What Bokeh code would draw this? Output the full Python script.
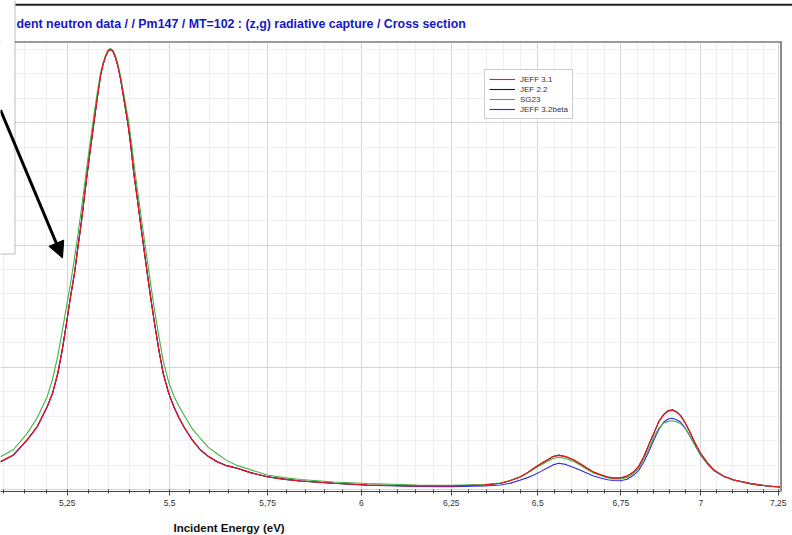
from bokeh.plotting import figure
from bokeh.models import (Range1d, FixedTicker, Grid, Label, BoxAnnotation,
                          Arrow, NormalHead, Legend, LegendItem, Title)
from bokeh.embed import file_html
from bokeh.resources import INLINE

# ---------------- data ----------------
ENERGY = [5.0934, 5.1236, 5.1555, 5.1790, 5.2025, 5.2151, 5.2276, 5.2381, 5.2483, 5.2579,
          5.2674, 5.2753, 5.2835, 5.2907, 5.2979, 5.3058, 5.3138, 5.3220, 5.3300, 5.3360,
          5.3421, 5.3481, 5.3542, 5.3603, 5.3664, 5.3725, 5.3786, 5.3871, 5.3974, 5.4043,
          5.4111, 5.4195, 5.4276, 5.4358, 5.4442, 5.4531, 5.4622, 5.4729, 5.4838, 5.4971,
          5.5103, 5.5228, 5.5354, 5.5565, 5.5775, 5.5978, 5.6199, 5.6437, 5.6712, 5.7055,
          5.7489, 5.7916, 5.8365, 5.9254, 6.0159, 6.1540, 6.2477, 6.3429, 6.3912, 6.4203,
          6.4495, 6.4700, 6.4885, 6.5083, 6.5281, 6.5453, 6.5626, 6.5825, 6.6074, 6.6275,
          6.6477, 6.6667, 6.6880, 6.7093, 6.7285, 6.7490, 6.7695, 6.7898, 6.8053, 6.8207,
          6.8362, 6.8517, 6.8673, 6.8829, 6.8961, 6.9092, 6.9227, 6.9353, 6.9511, 6.9668,
          6.9827, 6.9985, 7.0199, 7.0409, 7.0720, 7.1051, 7.1592, 7.2137, 7.2574]

JEFF31 = [228, 283, 406, 514, 678, 787, 951, 1141, 1360, 1577,
          1769, 1976, 2178, 2384, 2586, 2793, 2995, 3200, 3385, 3475,
          3541, 3584, 3600, 3582, 3532, 3459, 3361, 3189, 2976, 2797,
          2586, 2384, 2178, 1976, 1769, 1562, 1360, 1145, 951, 793,
          678, 589, 514, 406, 324, 270, 228, 196, 174, 139,
          105, 86, 70, 52, 38, 29, 29, 38, 52, 74,
          105, 139, 174, 209, 242, 270, 280, 270, 242, 209,
          174, 143, 121, 102, 94, 95, 110, 146, 192, 269,
          368, 460, 556, 613, 642, 648, 634, 605, 540, 460,
          372, 297, 221, 160, 110, 78, 49, 29, 21]

JEF22 = [228, 283, 406, 514, 678, 787, 951, 1141, 1360, 1577,
         1769, 1976, 2178, 2384, 2586, 2793, 2995, 3200, 3385, 3475,
         3541, 3584, 3598, 3582, 3532, 3459, 3361, 3189, 2976, 2797,
         2586, 2384, 2178, 1976, 1769, 1562, 1360, 1145, 951, 793,
         678, 589, 514, 406, 324, 270, 228, 196, 174, 139,
         105, 86, 70, 52, 38, 29, 29, 38, 52, 74,
         105, 139, 174, 209, 242, 271, 282, 271, 242, 209,
         174, 143, 121, 102, 94, 95, 110, 146, 192, 269,
         368, 460, 557, 615, 645, 652, 637, 607, 541, 460,
         372, 297, 221, 160, 110, 78, 49, 29, 21]

SG23 = [269, 328, 460, 588, 760, 902, 1094, 1294, 1496, 1683,
        1894, 2077, 2281, 2472, 2662, 2860, 3056, 3245, 3403, 3488,
        3549, 3594, 3608, 3592, 3545, 3475, 3379, 3228, 3027, 2867,
        2676, 2461, 2272, 2074, 1878, 1671, 1469, 1255, 1052, 882,
        765, 684, 612, 498, 416, 343, 293, 239, 198, 163,
        119, 98, 83, 62, 50, 38, 36, 42, 54, 75,
        103, 135, 168, 200, 230, 255, 264, 255, 230, 199,
        164, 136, 115, 98, 88, 87, 100, 136, 178, 250,
        335, 430, 503, 545, 558, 563, 555, 540, 499, 426,
        356, 283, 216, 160, 110, 78, 49, 29, 21]

JEFF32B = [228, 283, 406, 514, 678, 787, 951, 1141, 1360, 1577,
           1769, 1976, 2178, 2384, 2586, 2793, 2995, 3200, 3385, 3475,
           3541, 3584, 3600, 3582, 3532, 3459, 3361, 3189, 2976, 2797,
           2586, 2384, 2178, 1976, 1769, 1562, 1360, 1145, 951, 793,
           678, 589, 514, 406, 324, 270, 228, 196, 174, 139,
           105, 86, 70, 52, 36, 25, 24, 29, 38, 53,
           78, 98, 119, 147, 177, 202, 215, 206, 181, 158,
           133, 112, 95, 81, 74, 73, 85, 119, 159, 226,
           311, 406, 491, 553, 577, 583, 572, 553, 499, 430,
           354, 283, 213, 156, 109, 78, 49, 29, 21]

SERIES_NAMES = ["JEFF 3.1", "JEF 2.2", "SG23", "JEFF 3.2beta"]
SERIES_COLORS = ["#ff1010", "#1a1a1a", "#3db43d", "#2a2aee"]

X_TICKS = [5.25, 5.5, 5.75, 6, 6.25, 6.5, 6.75, 7, 7.25]
X_TICK_LABELS = ["5,25", "5,5", "5,75", "6", "6,25", "6,5", "6,75", "7", "7,25"]
X_MINOR = [round(5.10 + 0.05 * i, 2) for i in range(44)]
X_MINOR = [t for t in X_MINOR if t not in X_TICKS]
Y_TICKS = [0, 1000, 2000, 3000]
Y_MINOR = [t for t in range(200, 4000, 200) if t not in Y_TICKS]

TITLE = "dent neutron data / / Pm147 / MT=102 : (z,g) radiative capture / Cross section"
X_LABEL = "Incident Energy (eV)"

# visible axis extent and frame extent
X_MIN, X_AXIS_END, X_MAX = 5.0934, 7.2574, 7.2969
Y_MIN, Y_PLOT_TOP, Y_MAX = -15.5, 3664, 3999.3

ARROW_START = (X_MIN, 3104)
ARROW_END = (5.2388, 1894)

FONT = "Liberation Sans"

# ---------------- figure ----------------
p = figure(width=792, height=535, x_axis_type="log",
           x_range=Range1d(X_MIN, X_MAX), y_range=Range1d(Y_MIN, Y_MAX),
           output_backend="svg", toolbar_location=None, y_axis_location=None,
           min_border_left=0, min_border_right=0, min_border_top=0,
           min_border_bottom=44)
p.outline_line_color = None
p.background_fill_color = "white"
p.border_fill_color = "white"

xticker = FixedTicker(ticks=X_TICKS, minor_ticks=X_MINOR)
p.xaxis.ticker = xticker
p.xaxis.bounds = (X_MIN, X_AXIS_END)
p.xaxis.major_label_overrides = {t: l for t, l in zip(X_TICKS, X_TICK_LABELS)}
p.xaxis.axis_line_color = "#444444"
p.xaxis.axis_line_width = 1
p.xaxis.major_tick_line_color = "#444444"
p.xaxis.minor_tick_line_color = "#444444"
p.xaxis.major_tick_in = 2
p.xaxis.major_tick_out = 4
p.xaxis.minor_tick_in = 2
p.xaxis.minor_tick_out = 2
p.xaxis.major_label_text_font = FONT
p.xaxis.major_label_text_font_size = "8.5px"
p.xaxis.major_label_text_color = "#333333"
p.xaxis.major_label_standoff = 4
# invisible spacer label so that the title below sits at the right height
p.xaxis.axis_label = " "
p.xaxis.axis_label_text_font_size = "4px"
p.xaxis.axis_label_standoff = 1

p.xgrid.ticker = xticker
p.xgrid.grid_line_color = "#d4d4d4"
p.xgrid.grid_line_width = 1
p.xgrid.minor_grid_line_color = "#efefef"
p.xgrid.minor_grid_line_width = 1

ygrid = Grid(dimension=1, ticker=FixedTicker(ticks=Y_TICKS, minor_ticks=Y_MINOR),
             grid_line_color="#d4d4d4", grid_line_width=1,
             minor_grid_line_color="#efefef", minor_grid_line_width=1)
p.add_layout(ygrid)

# curves (draw order: black, blue, green, red on top)
r_black = p.line(ENERGY, JEF22, line_color=SERIES_COLORS[1], line_width=1.1)
r_blue = p.line(ENERGY, JEFF32B, line_color=SERIES_COLORS[3], line_width=1.1)
r_green = p.line(ENERGY, SG23, line_color=SERIES_COLORS[2], line_width=1.1)
r_red = p.line(ENERGY, JEFF31, line_color=SERIES_COLORS[0], line_width=1.1)

def canvas_box(left, right, top, bottom, fill, line=None, lw=1):
    return BoxAnnotation(left=left, right=right, top=top, bottom=bottom,
                         left_units="canvas", right_units="canvas",
                         top_units="canvas", bottom_units="canvas",
                         fill_color=fill, fill_alpha=1,
                         line_color=line, line_width=lw, level="annotation")

# white areas outside the plotting box (above it, right of it)
p.add_layout(canvas_box(-5, 800, -5, 40.5, "white"))
p.add_layout(canvas_box(781.5, 800, -5, 492, "white"))
# plotting box borders (top and right)
p.add_layout(canvas_box(0, 781.5, 40.5, 42.5, "#9c9c9c"))
p.add_layout(canvas_box(779.5, 781.5, 40.5, 491.5, "#8c8c8c"))
# outer panel line and annotation box
p.add_layout(canvas_box(15, 800, 3.3, 5.3, "#222222"))
p.add_layout(canvas_box(-2, 14.5, -2, 253.5, "white", "#222222", 1))

p.add_layout(Arrow(x_start=ARROW_START[0], y_start=ARROW_START[1],
                   x_end=ARROW_END[0], y_end=ARROW_END[1],
                   line_color="black", line_width=3, level="annotation",
                   end=NormalHead(size=16, fill_color="black", line_color="black")))

# title
p.add_layout(Label(x=16, y=23, x_units="canvas", y_units="canvas", text=TITLE,
                   text_font=FONT, text_font_style="bold", text_font_size="12.4px",
                   text_color="#1616c8", text_baseline="alphabetic", text_align="left",
                   level="annotation"))

# axis label (left aligned like the cropped original)
p.add_layout(Title(text=X_LABEL, align="left", offset=173, text_font=FONT,
                   text_font_style="bold", text_font_size="11.5px",
                   text_color="#111111", standoff=4), "below")

legend = Legend(items=[LegendItem(label=SERIES_NAMES[0], renderers=[r_red]),
                       LegendItem(label=SERIES_NAMES[1], renderers=[r_black]),
                       LegendItem(label=SERIES_NAMES[2], renderers=[r_green]),
                       LegendItem(label=SERIES_NAMES[3], renderers=[r_blue])],
                location=(484, 372), orientation="vertical",
                label_text_font=FONT, label_text_font_size="8px",
                label_text_color="#333333", glyph_width=26, glyph_height=10,
                label_height=10, spacing=0, padding=4, margin=0,
                label_standoff=5, border_line_color="#9a9a9a", border_line_width=1,
                background_fill_color="white", background_fill_alpha=1)
p.add_layout(legend)

open("out.html", "w").write(file_html(p, INLINE))
